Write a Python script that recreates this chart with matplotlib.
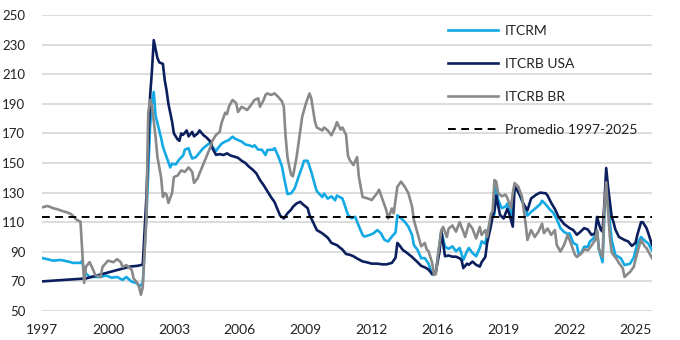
import matplotlib
matplotlib.use("Agg")
import matplotlib.pyplot as plt

# monthly periods counted from Jan-1997 (category axis, one label every 36 periods)
tick_pos = [0, 36, 72, 108, 144, 180, 216, 252, 288, 324]
tick_labels = ["1997", "2000", "2003", "2006", "2009", "2012", "2016", "2019", "2022", "2025"]

promedio = 113.5

itcrm_t = [0, 3, 6, 10, 14, 17, 21, 22, 23, 26, 32, 35, 38, 41, 44, 46, 49, 52, 53, 55,
           57, 59, 60, 61, 62, 63, 64, 65, 66, 68, 70, 71, 73, 75, 77, 78, 80, 81, 82, 84,
           86, 88, 90, 92, 93, 95, 96, 98, 100, 102, 104, 105, 107, 109, 111, 113, 115, 116, 118, 120,
           122, 123, 126, 127, 129, 131, 132, 134, 136, 138, 140, 142, 143, 145, 147, 149, 150, 153, 154, 156,
           158, 160, 161, 164, 165, 167, 169, 171, 172, 175, 176, 179, 181, 183, 185, 187, 189, 191, 193, 194,
           196, 198, 200, 202, 203, 205, 207, 209, 211, 213, 215, 218, 220, 222, 224, 226, 228, 230, 232, 233,
           235, 237, 239, 240, 242, 243, 245, 247, 248, 249, 251, 253, 254, 256, 258, 260, 262, 264, 265, 267,
           270, 272, 273, 275, 277, 279, 281, 283, 285, 287, 288, 290, 292, 293, 294, 296, 298, 299, 301, 303,
           304, 306, 307, 308, 309, 311, 313, 316, 318, 321, 323, 325, 327, 329, 331, 333]
itcrm = [85.8, 85, 84, 84.5, 83.5, 82.5, 82.5, 84, 76.5, 73, 73, 74, 72.5, 73, 71, 73, 69.8, 68.7, 66.4, 69,
         113.5, 175, 190, 198, 182, 177, 172, 167, 161, 154, 147, 149.5, 149, 152.5, 155, 159, 160, 156, 153, 154,
         157, 160, 162, 164, 161, 158, 160, 163, 164.5, 165.5, 167.8, 166.7, 165.5, 164.5, 162.5, 162, 161, 162, 159, 159,
         155.4, 158.8, 159, 160, 154.5, 147.7, 141, 129, 129.5, 133, 140.5, 147.3, 151.5, 151.5, 144, 135, 131, 127, 129.3, 125.9,
         127.5, 124.8, 128, 126, 122.5, 115, 112.6, 113.7, 110.3, 101.4, 100.3, 101.4, 102.5, 104.7, 102.5, 98, 97, 100.3, 103, 114.7,
         112.6, 110.3, 107, 101.4, 94.6, 91.3, 85.7, 85.7, 82, 74.5, 76.6, 104, 93.4, 92, 93.7, 90.4, 92.6, 84.5, 90.4, 92.6,
         89.2, 87, 92.6, 97, 95.5, 102.6, 111.5, 115.5, 134, 125, 119.5, 120.5, 122.5, 114, 133, 131, 124.5, 118.9, 114.4, 117,
         120, 122.2, 124.5, 122, 118.9, 116.5, 112, 106, 103.4, 102, 102.5, 96, 94.6, 88, 88.5, 93.4, 93.4, 96.8, 99, 104.2,
         91.8, 83, 115, 135, 122, 98, 87.8, 85.6, 81, 82, 86, 95.5, 100, 97.6, 95.5, 91]

usa_t = [0, 6, 12, 18, 24, 30, 36, 42, 48, 52, 55, 57, 59, 60, 61, 63, 64, 66, 67, 68,
         69, 71, 72, 74, 75, 76, 77, 79, 80, 82, 83, 85, 86, 88, 90, 92, 93, 95, 97, 99,
         101, 103, 105, 107, 109, 111, 113, 115, 117, 119, 121, 123, 125, 127, 128, 130, 132, 134, 136, 137,
         139, 141, 142, 145, 146, 148, 150, 153, 156, 158, 161, 164, 166, 168, 170, 172, 175, 177, 180, 183,
         186, 188, 191, 193, 194, 195, 197, 199, 202, 205, 207, 209, 211, 213, 215, 217, 218, 220, 222, 224,
         226, 228, 229, 230, 232, 233, 235, 237, 239, 240, 242, 243, 245, 246, 247, 248, 250, 252, 254, 255,
         257, 258, 259, 261, 263, 265, 267, 270, 272, 275, 276, 278, 280, 282, 285, 288, 290, 292, 294, 296,
         298, 300, 302, 303, 304, 305, 306, 307, 308, 309, 311, 312, 313, 315, 318, 320, 322, 324, 325, 327,
         328, 330, 331, 333]
usa = [70, 70.5, 71, 71.5, 72, 74, 76, 78, 80, 80.5, 81.3, 127, 195, 212, 233, 221, 218, 217, 206, 199,
       190, 178, 170, 166, 165, 170, 169, 172, 168, 171, 168, 170, 172, 169, 167, 164.4, 160, 155.5, 156, 155.4,
       156.5, 155, 154.3, 153.5, 151.5, 150, 147.5, 145.5, 143, 138.5, 135, 131, 127, 123.5, 120.4, 114.5, 112.5, 116, 118.5, 120.4,
       122.7, 123.8, 122.5, 119.5, 115, 110, 104.7, 102.5, 99.5, 96, 94.5, 91.5, 88.5, 88, 87, 85.5, 83.5, 83, 82, 82,
       81.5, 81.5, 82.5, 86, 96, 94.6, 91.2, 89.5, 86.5, 83, 80.5, 79.5, 78, 75, 76.6, 90, 104, 87, 87.5, 86.7,
       86.7, 85.6, 84.5, 79, 82, 81.2, 83.4, 81.2, 80, 83, 86.5, 96, 107.1, 113.9, 118, 128, 115, 112.5, 119, 116,
       107, 134, 132.5, 128, 122, 118, 126, 128.8, 130, 129.5, 128, 123, 118.9, 113.5, 108.8, 106, 104.7, 101.5, 103.6, 106,
       105, 101.4, 102.6, 113.6, 109, 105, 103.6, 122.5, 146.6, 134, 113.6, 110, 105, 100, 98, 97, 94, 96, 101.4, 110,
       110, 106, 102.5, 94.6]

br_t = [0, 3, 6, 9, 11, 14, 16, 19, 21, 22, 23, 24, 26, 28, 29, 32, 33, 36, 39, 41,
        43, 44, 46, 47, 49, 50, 52, 53, 54, 55, 57, 58, 59, 60, 62, 63, 65, 66, 67, 68,
        69, 71, 72, 74, 76, 78, 80, 82, 83, 85, 86, 89, 92, 93, 95, 97, 98, 100, 101, 102,
        104, 106, 107, 109, 112, 114, 116, 118, 119, 121, 122, 123, 125, 127, 129, 131, 132, 133, 134, 135,
        136, 137, 139, 141, 142, 144, 146, 147, 149, 150, 153, 154, 156, 158, 160, 161, 163, 164, 166, 167,
        168, 170, 172, 173, 175, 178, 180, 183, 184, 186, 188, 189, 191, 192, 194, 196, 198, 200, 202, 203,
        205, 207, 209, 210, 211, 213, 214, 215, 216, 218, 219, 221, 222, 224, 226, 228, 230, 231, 233, 235,
        237, 239, 240, 242, 243, 245, 246, 247, 248, 249, 251, 253, 254, 256, 257, 258, 260, 262, 263, 264,
        265, 267, 269, 271, 273, 274, 276, 278, 280, 281, 283, 285, 287, 289, 291, 292, 295, 296, 298, 300,
        302, 303, 304, 306, 307, 308, 309, 310, 311, 314, 315, 317, 318, 321, 323, 325, 327, 329, 330, 333]
br = [120, 121, 119.5, 118.5, 117.6, 116.5, 115.4, 111.5, 110.4, 90, 69, 80, 83, 77.6, 74.3, 73, 79.7, 84, 83, 85,
      83, 79.7, 81, 80, 77.7, 72, 69, 66.4, 61, 66, 113.5, 184, 192.6, 189, 167.6, 154, 140.5, 127, 129.7, 128.6,
      123, 129.7, 140.5, 141.5, 145, 144, 147, 144, 136.5, 139.7, 143, 152, 161, 165, 169, 171, 177, 184, 183, 188,
      192.6, 190.5, 184.5, 188, 185.8, 189, 192.6, 193.7, 188, 192.6, 196, 197, 196, 197, 194.6, 191.6, 188, 167.6, 154, 147.5,
      142, 141, 154, 172, 181, 190, 197, 193.7, 178, 174, 172, 174, 172, 168.7, 174, 177.6, 172.6, 174, 169, 155,
      152, 148.6, 154, 140.5, 127, 126, 125, 129.7, 132, 125, 118, 112.5, 119.3, 116, 134, 137.4, 134, 129.6, 120.6, 111.5,
      102.6, 93.7, 96, 91.5, 90.5, 82.4, 74.3, 75, 86, 104.7, 106.8, 100, 105.7, 107.8, 103.6, 110, 103.6, 100, 109, 105.7,
      99, 106.8, 101.4, 104.7, 100, 115.3, 117.6, 138.5, 137.4, 129.7, 127.5, 128.6, 126.4, 119.6, 129.7, 136.5, 134, 127.5, 118, 109,
      98, 104.7, 100, 103.6, 109, 102.6, 105.7, 101.4, 104.7, 94.6, 90.2, 94.6, 101.4, 94.6, 87.8, 86.5, 89.6, 91.8, 91, 94.3,
      98, 104.7, 91.8, 86.5, 120, 137, 117.7, 100, 89.6, 84.5, 82.3, 79, 73, 76.4, 79.7, 89.6, 98, 93.7, 92.5, 85.8]

plt.rcParams["font.family"] = ["Lato", "DejaVu Sans"]

fig = plt.figure(figsize=(6.8, 3.4), dpi=100)
ax = fig.add_axes([42 / 680, 1 - 311 / 340, 610 / 680, 296 / 340])

ax.plot(itcrm_t, itcrm, color="#12A9E4", lw=1.9, label="ITCRM", solid_joinstyle="round")
ax.plot(usa_t, usa, color="#0B1F5E", lw=1.9, label="ITCRB USA", solid_joinstyle="round")
ax.plot(br_t, br, color="#898989", lw=1.9, label="ITCRB BR", solid_joinstyle="round")
ax.axhline(promedio, color="black", lw=1.4, ls=(0, (4, 2.8)), label="Promedio 1997-2025")

ax.set_xlim(0, 333)
ax.set_ylim(50, 250)
ax.set_yticks(range(50, 251, 20))
ax.set_xticks(tick_pos)
ax.set_xticklabels(tick_labels)
ax.grid(axis="y", color="#d9d9d9", lw=1.3)
ax.set_axisbelow(True)
for s in ax.spines.values():
    s.set_visible(False)
ax.tick_params(length=0, labelsize=10, colors="#222222")
ax.tick_params(axis="y", labelsize=9.5, pad=12)
ax.tick_params(axis="x", pad=9)

leg = ax.legend(loc="upper left", bbox_to_anchor=((448 - 42) / 610, (311 - 25) / 296),
                frameon=False, fontsize=10, handlelength=3.6, handletextpad=0.5,
                labelspacing=1.5, borderpad=0, borderaxespad=0)
for t in leg.get_texts():
    t.set_color("#222222")

fig.savefig("out.png", dpi=100)
